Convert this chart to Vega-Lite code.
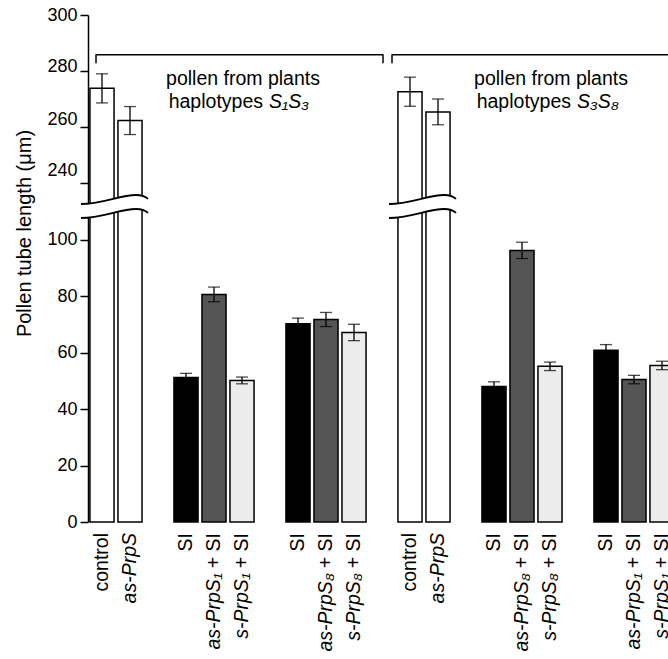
{
  "$schema": "https://vega.github.io/schema/vega-lite/v6.json",
  "width": 580,
  "height": 507,
  "autosize": {"type": "none"},
  "padding": {"left": 88, "top": 15, "right": 0, "bottom": 137},
  "background": "white",
  "config": {"view": {"stroke": null}, "font": "Liberation Sans"},
  "datasets": {
    "bars": [
      {"id": "A1", "kind": "w", "value": 273.8, "err": 5.2, "norm": "control", "ital": ""},
      {"id": "A2", "kind": "w", "value": 262.3, "err": 5.0, "norm": "", "ital": "as-PrpS"},
      {"id": "A3", "kind": "SI", "value": 51.2, "err": 1.5, "norm": "SI", "ital": ""},
      {"id": "A4", "kind": "as", "value": 80.7, "err": 2.6, "norm": "+ SI", "ital": "as-PrpS₁"},
      {"id": "A5", "kind": "s", "value": 50.2, "err": 1.2, "norm": "+ SI", "ital": "s-PrpS₁"},
      {"id": "A6", "kind": "SI", "value": 70.3, "err": 2.0, "norm": "SI", "ital": ""},
      {"id": "A7", "kind": "as", "value": 71.8, "err": 2.5, "norm": "+ SI", "ital": "as-PrpS₈"},
      {"id": "A8", "kind": "s", "value": 67.2, "err": 2.9, "norm": "+ SI", "ital": "s-PrpS₈"},
      {"id": "B1", "kind": "w", "value": 272.6, "err": 5.2, "norm": "control", "ital": ""},
      {"id": "B2", "kind": "w", "value": 265.4, "err": 4.6, "norm": "", "ital": "as-PrpS"},
      {"id": "B3", "kind": "SI", "value": 48.0, "err": 1.7, "norm": "SI", "ital": ""},
      {"id": "B4", "kind": "as", "value": 96.3, "err": 2.9, "norm": "+ SI", "ital": "as-PrpS₈"},
      {"id": "B5", "kind": "s", "value": 55.2, "err": 1.5, "norm": "+ SI", "ital": "s-PrpS₈"},
      {"id": "B6", "kind": "SI", "value": 60.9, "err": 2.0, "norm": "SI", "ital": ""},
      {"id": "B7", "kind": "as", "value": 50.5, "err": 1.5, "norm": "+ SI", "ital": "as-PrpS₁"},
      {"id": "B8", "kind": "s", "value": 55.5, "err": 1.5, "norm": "+ SI", "ital": "s-PrpS₁"}
    ],
    "ann": [
      {"id": "A5", "l1": "pollen from plants", "l2n": "haplotypes", "l2i": "S₁S₃"},
      {"id": "B5", "l1": "pollen from plants", "l2n": "haplotypes", "l2i": "S₃S₈"}
    ]
  },
  "data": {"name": "bars"},
  "layer": [
    {
      "mark": {"type": "bar", "stroke": "black", "strokeWidth": 1.5},
      "encoding": {
        "x": {
          "field": "id", "type": "nominal",
          "scale": {
            "domain": ["A1","A2","g1","A3","A4","A5","g2","A6","A7","A8","g3","B1","B2","g4","B3","B4","B5","g5","B6","B7","B8"],
            "range": [0, 588], "paddingInner": 0.14, "paddingOuter": 0.07
          },
          "axis": null
        },
        "y": {
          "field": "value", "type": "quantitative",
          "title": "Pollen tube length (μm)",
          "scale": {"domain": [0, 108, 232, 300], "range": [507, 202.4, 190.4, 0], "nice": false, "zero": false},
          "axis": {
            "values": [0, 20, 40, 60, 80, 100, 240, 260, 280, 300],
            "grid": false,
            "domainColor": "black", "domainWidth": 1.5,
            "tickColor": "black", "tickWidth": 1.5, "tickSize": 8,
            "labelFontSize": 18, "labelColor": "black", "labelPadding": 3,
            "labelOverlap": false,
            "labelOffset": {"condition": [
              {"test": "datum.value == 240", "value": -13},
              {"test": "datum.value == 260", "value": -8},
              {"test": "datum.value == 280", "value": -5}
            ], "value": 0},
            "titleFontSize": 20, "titleFontWeight": "normal", "titleColor": "black",
            "titleAngle": 270, "titleAlign": "center", "titleBaseline": "middle",
            "titleX": -64, "titleY": 218
          }
        },
        "fill": {
          "field": "kind", "type": "nominal",
          "scale": {"domain": ["w", "SI", "as", "s"], "range": ["white", "black", "#555555", "#ececec"]},
          "legend": null
        }
      }
    },
    {
      "mark": {"type": "errorbar", "color": "black",
        "ticks": {"size": 12, "thickness": 1.3, "color": "black"},
        "rule": {"strokeWidth": 1.3, "color": "black"}},
      "encoding": {
        "x": {"field": "id", "type": "nominal"},
        "y": {"field": "value", "type": "quantitative", "title": "Pollen tube length (μm)"},
        "yError": {"field": "err"}
      }
    },
    {
      "data": {"values": [{"id": "A1"}, {"id": "B1"}]},
      "mark": {"type": "point", "shape": "M -21 -8 C 0 -8 18 -17 34 -17 C 40 -17 44 -15 46 -13 L 46 1 C 44 -1 40 -3 34 -3 C 18 -3 0 6 -21 6 Z", "size": 4, "filled": true, "color": "white", "fill": "white", "strokeWidth": 0, "opacity": 1},
      "encoding": {"x": {"field": "id", "type": "nominal"}, "y": {"datum": 164}}
    },
    {
      "data": {"values": [{"id": "A1"}, {"id": "B1"}]},
      "mark": {"type": "point", "shape": "M -21 -8 C 0 -8 18 -17 34 -17 C 40 -17 44 -15 46 -13 M -21 6 C 0 6 18 -3 34 -3 C 40 -3 44 -1 46 1", "size": 4, "filled": false, "stroke": "black", "color": "black", "strokeWidth": 1.8, "opacity": 1},
      "encoding": {"x": {"field": "id", "type": "nominal"}, "y": {"datum": 164}}
    },
    {
      "data": {"values": [{"a": "A1", "b": "g3"}]},
      "mark": {"type": "rule", "color": "black", "strokeWidth": 1.5, "xOffset": -6, "x2Offset": 1},
      "encoding": {"x": {"field": "a", "type": "nominal"}, "x2": {"field": "b"}, "y": {"datum": 285.8}}
    },
    {
      "data": {"values": [{"a": "g3", "b": "B8"}]},
      "mark": {"type": "rule", "color": "black", "strokeWidth": 1.5, "xOffset": 10, "x2Offset": 30},
      "encoding": {"x": {"field": "a", "type": "nominal"}, "x2": {"field": "b"}, "y": {"datum": 285.8}}
    },
    {
      "data": {"values": [{"a": "A1"}]},
      "mark": {"type": "rule", "color": "black", "strokeWidth": 1.5, "xOffset": -6},
      "encoding": {"x": {"field": "a", "type": "nominal"}, "y": {"datum": 286}, "y2": {"datum": 282.8}}
    },
    {
      "data": {"values": [{"a": "g3"}]},
      "mark": {"type": "rule", "color": "black", "strokeWidth": 1.5, "xOffset": 1},
      "encoding": {"x": {"field": "a", "type": "nominal"}, "y": {"datum": 286}, "y2": {"datum": 282.8}}
    },
    {
      "data": {"values": [{"a": "g3"}]},
      "mark": {"type": "rule", "color": "black", "strokeWidth": 1.5, "xOffset": 10},
      "encoding": {"x": {"field": "a", "type": "nominal"}, "y": {"datum": 286}, "y2": {"datum": 282.8}}
    },
    {
      "transform": [{"filter": "datum.norm != ''"}],
      "mark": {"type": "text", "angle": 270, "align": "right", "baseline": "middle", "dx": -11, "fontSize": 19.5, "color": "black"},
      "encoding": {"x": {"field": "id", "type": "nominal"}, "y": {"datum": 0}, "text": {"field": "norm"}}
    },
    {
      "transform": [{"filter": "datum.ital != '' && datum.norm == ''"}],
      "mark": {"type": "text", "angle": 270, "align": "right", "baseline": "middle", "dx": -11, "fontSize": 19.5, "fontStyle": "italic", "color": "black"},
      "encoding": {"x": {"field": "id", "type": "nominal"}, "y": {"datum": 0}, "text": {"field": "ital"}}
    },
    {
      "transform": [{"filter": "datum.ital != '' && datum.norm != ''"}],
      "mark": {"type": "text", "angle": 270, "align": "right", "baseline": "middle", "dx": -51, "fontSize": 19.5, "fontStyle": "italic", "color": "black"},
      "encoding": {"x": {"field": "id", "type": "nominal"}, "y": {"datum": 0}, "text": {"field": "ital"}}
    },
    {
      "data": {"name": "ann"},
      "mark": {"type": "text", "align": "center", "baseline": "alphabetic", "dx": 1, "fontSize": 19.5, "color": "black"},
      "encoding": {"x": {"field": "id", "type": "nominal"}, "y": {"datum": 275}, "text": {"field": "l1"}}
    },
    {
      "data": {"name": "ann"},
      "mark": {"type": "text", "align": "right", "baseline": "alphabetic", "dx": 21, "fontSize": 19.5, "color": "black"},
      "encoding": {"x": {"field": "id", "type": "nominal"}, "y": {"datum": 266.8}, "text": {"field": "l2n"}}
    },
    {
      "data": {"name": "ann"},
      "mark": {"type": "text", "align": "left", "baseline": "alphabetic", "dx": 27, "fontSize": 19.5, "fontStyle": "italic", "color": "black"},
      "encoding": {"x": {"field": "id", "type": "nominal"}, "y": {"datum": 266.8}, "text": {"field": "l2i"}}
    }
  ]
}
